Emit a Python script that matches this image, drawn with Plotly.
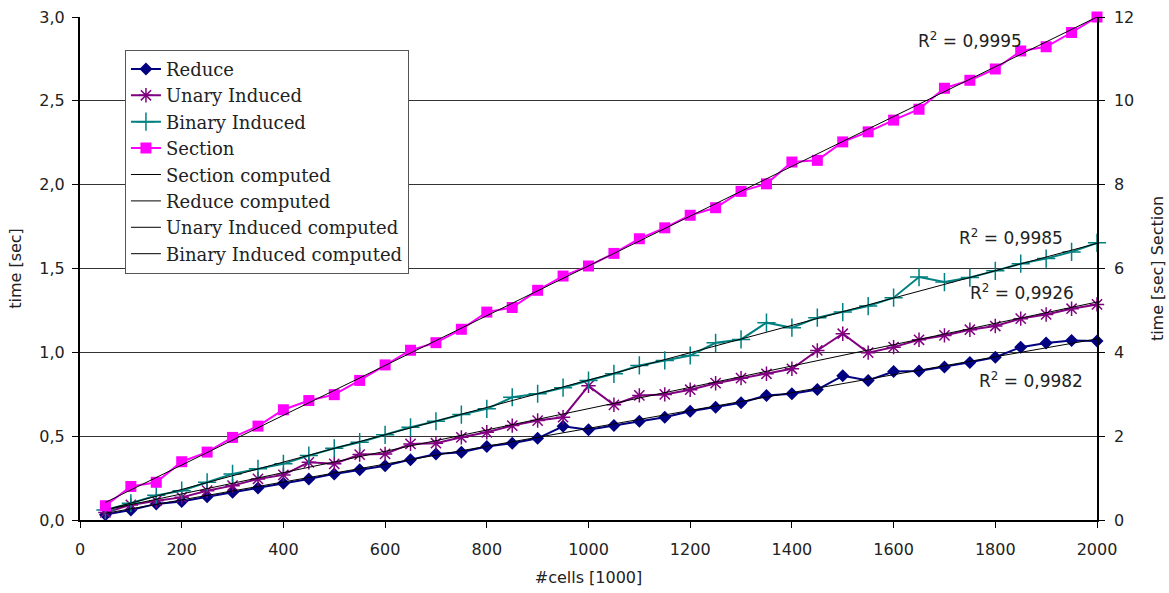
import plotly.graph_objects as go

cells = [50, 100, 150, 200, 250, 300, 350, 400, 450, 500,
         550, 600, 650, 700, 750, 800, 850, 900, 950, 1000,
         1050, 1100, 1150, 1200, 1250, 1300, 1350, 1400, 1450, 1500,
         1550, 1600, 1650, 1700, 1750, 1800, 1850, 1900, 1950, 2000]

reduce_t = [0.032, 0.060, 0.096, 0.111, 0.139, 0.165, 0.191, 0.219, 0.245, 0.275,
            0.300, 0.324, 0.360, 0.394, 0.404, 0.438, 0.458, 0.487, 0.559, 0.538,
            0.563, 0.589, 0.613, 0.649, 0.673, 0.699, 0.743, 0.753, 0.778, 0.860,
            0.832, 0.886, 0.888, 0.912, 0.940, 0.971, 1.031, 1.055, 1.071, 1.067]

unary_t = [0.045, 0.090, 0.115, 0.135, 0.175, 0.205, 0.245, 0.269, 0.344, 0.335,
           0.390, 0.394, 0.454, 0.458, 0.493, 0.523, 0.563, 0.593, 0.613, 0.800,
           0.687, 0.743, 0.749, 0.777, 0.816, 0.846, 0.872, 0.902, 1.011, 1.111,
           0.998, 1.031, 1.075, 1.101, 1.135, 1.157, 1.201, 1.226, 1.260, 1.286]

binary_t = [0.060, 0.100, 0.147, 0.175, 0.225, 0.275, 0.305, 0.335, 0.384, 0.428,
            0.464, 0.508, 0.553, 0.589, 0.629, 0.663, 0.732, 0.753, 0.789, 0.832,
            0.872, 0.922, 0.952, 0.981, 1.057, 1.077, 1.177, 1.147, 1.207, 1.240,
            1.276, 1.326, 1.449, 1.419, 1.446, 1.486, 1.529, 1.559, 1.599, 1.653]

section_t = [0.34, 0.80, 0.90, 1.39, 1.62, 1.97, 2.24, 2.63, 2.85, 2.99,
             3.33, 3.70, 4.05, 4.23, 4.55, 4.96, 5.07, 5.48, 5.82, 6.06,
             6.36, 6.71, 6.97, 7.27, 7.45, 7.84, 8.02, 8.54, 8.58, 9.02,
             9.26, 9.54, 9.80, 10.30, 10.49, 10.76, 11.19, 11.29, 11.63, 12.00]

# computed (trend) lines, end points
fit_x = [50, 2000]
section_fit = [0.42, 12.0]
reduce_fit = [0.040, 1.080]
unary_fit = [0.060, 1.300]
binary_fit = [0.060, 1.650]

r2_labels = ["0,9995", "0,9985", "0,9926", "0,9982"]
r2_x = [1750, 1830, 1853, 1870]
r2_y = [2.86, 1.686, 1.357, 0.833]

y_ticks = [0, 0.5, 1.0, 1.5, 2.0, 2.5, 3.0]
y2_ticks = [0, 2, 4, 6, 8, 10, 12]
x_ticks = list(range(0, 2001, 200))

fig = go.Figure()

fig.add_trace(go.Scatter(x=cells, y=reduce_t, name="Reduce", mode="lines+markers",
                         line=dict(color="#000080", width=2),
                         marker=dict(symbol="diamond", size=10, color="#000080"),
                         cliponaxis=False))
fig.add_trace(go.Scatter(x=cells, y=unary_t, name="Unary Induced", mode="lines+markers",
                         line=dict(color="#800080", width=2),
                         marker=dict(symbol="asterisk-open", size=12,
                                     line=dict(color="#800080", width=1.5)),
                         cliponaxis=False))
fig.add_trace(go.Scatter(x=cells, y=binary_t, name="Binary Induced", mode="lines+markers",
                         line=dict(color="#008080", width=2),
                         marker=dict(symbol="cross-thin-open", size=13,
                                     line=dict(color="#008080", width=1.5)),
                         cliponaxis=False))
fig.add_trace(go.Scatter(x=cells, y=section_t, name="Section", mode="lines+markers",
                         yaxis="y2",
                         line=dict(color="#FF00FF", width=2),
                         marker=dict(symbol="square", size=11, color="#FF00FF"),
                         cliponaxis=False))

fig.add_trace(go.Scatter(x=fit_x, y=section_fit, name="Section computed", mode="lines",
                         yaxis="y2", line=dict(color="black", width=1), cliponaxis=False))
fig.add_trace(go.Scatter(x=fit_x, y=reduce_fit, name="Reduce computed", mode="lines",
                         line=dict(color="black", width=1), cliponaxis=False))
fig.add_trace(go.Scatter(x=fit_x, y=unary_fit, name="Unary Induced computed", mode="lines",
                         line=dict(color="black", width=1), cliponaxis=False))
fig.add_trace(go.Scatter(x=fit_x, y=binary_fit, name="Binary Induced computed", mode="lines",
                         line=dict(color="black", width=1), cliponaxis=False))

for lab, ax, ay in zip(r2_labels, r2_x, r2_y):
    fig.add_annotation(x=ax, y=ay, xref="x", yref="y", text="R<sup>2</sup> = " + lab,
                       showarrow=False,
                       font=dict(family="DejaVu Sans", size=17, color="#222"))

tickfont = dict(family="DejaVu Sans", size=16, color="#222")
titlefont = dict(family="DejaVu Sans", size=16, color="#222")

fig.update_layout(
    width=1169, height=593,
    margin=dict(l=80, r=72, t=17, b=73),
    paper_bgcolor="white", plot_bgcolor="white",
    separators=", ",
    showlegend=True,
    legend=dict(x=0.0442, y=0.935, xanchor="left", yanchor="top",
                bgcolor="white", bordercolor="#555", borderwidth=1,
                font=dict(family="DejaVu Serif", size=18, color="#222"),
                traceorder="normal", tracegroupgap=0),
    xaxis=dict(range=[0, 2000], tickvals=x_ticks, ticks="outside", ticklen=6,
               tickcolor="black", showline=True, linecolor="black", linewidth=2,
               showgrid=False, zeroline=False, tickfont=tickfont,
               ticklabelstandoff=8, automargin=False,
               title=dict(text="#cells [1000]", font=titlefont, standoff=14)),
    yaxis=dict(range=[0, 3], tickvals=y_ticks, tickformat=".1f", ticks="outside",
               ticklen=6, tickcolor="black", showline=True, linecolor="black",
               linewidth=2, showgrid=True, gridcolor="#333", gridwidth=1,
               zeroline=False, tickfont=tickfont,
               ticklabelstandoff=4, automargin=False,
               title=dict(text="time [sec]", font=titlefont, standoff=14)),
    yaxis2=dict(range=[0, 12], tickvals=y2_ticks, overlaying="y", side="right",
                ticks="outside", ticklen=6, tickcolor="black", showline=True,
                linecolor="black", linewidth=1.5, showgrid=False, zeroline=False,
                tickfont=tickfont, ticklabelstandoff=6, automargin=False,
                title=dict(text="time [sec] Section", font=titlefont, standoff=18)),
)

fig.write_html("out.html")
